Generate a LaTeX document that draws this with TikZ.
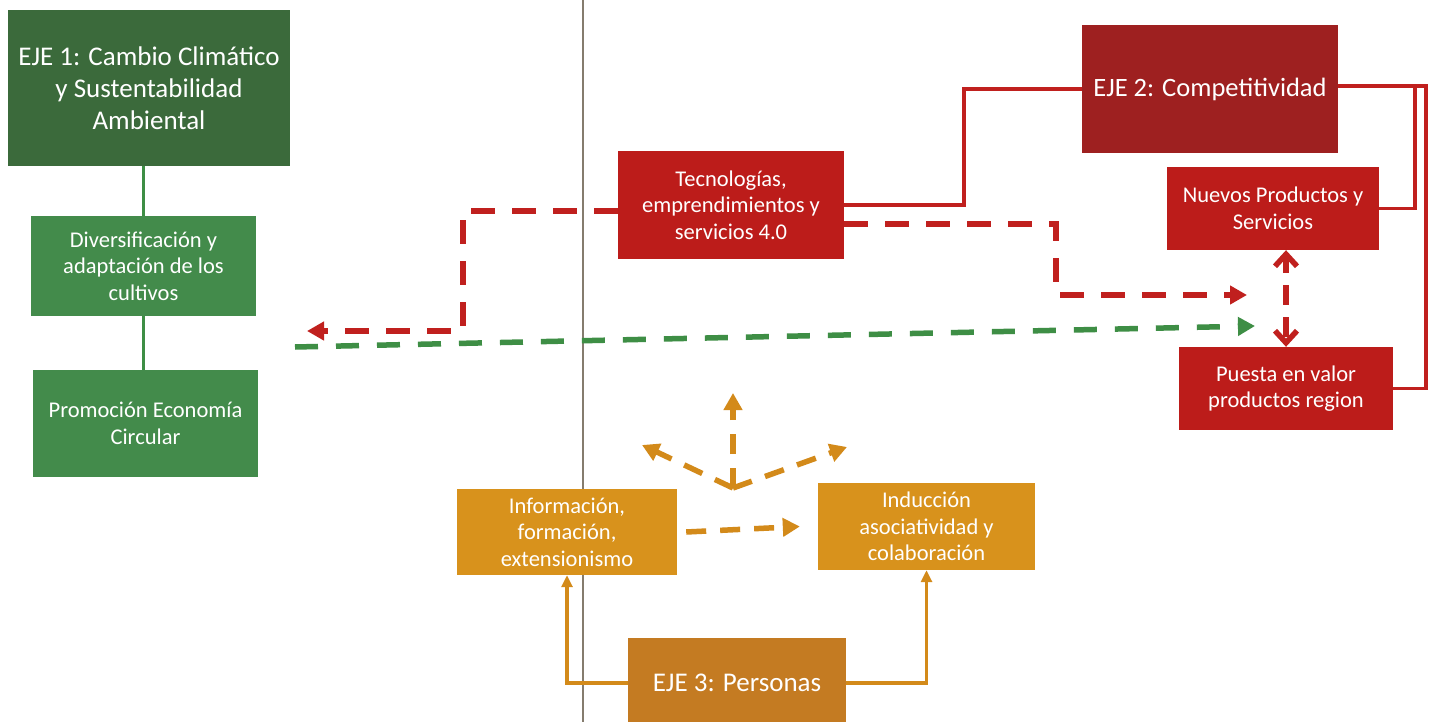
\documentclass[tikz,border=0pt]{standalone}
\usepackage{fontspec}
\setmainfont{Carlito}
\usetikzlibrary{arrows.meta}
\definecolor{gdark}{HTML}{3B6A3B}
\definecolor{gmid}{HTML}{438B4B}
\definecolor{gline}{HTML}{3E8E45}
\definecolor{rbox}{HTML}{BC1C1A}
\definecolor{rdark}{HTML}{9E2020}
\definecolor{rline}{HTML}{C0201E}
\definecolor{obox}{HTML}{D8921C}
\definecolor{odark}{HTML}{C47B22}
\definecolor{oline}{HTML}{D38A1A}
\definecolor{grayline}{HTML}{857C6E}
\tikzset{
  box/.style={rectangle, inner sep=2pt, align=center, text=white},
  bigtxt/.style={font=\fontsize{27}{32}\selectfont},
  smalltxt/.style={font=\fontsize{22.5}{26.5}\selectfont},
  solidred/.style={draw=rline, line width=3.2pt},
  solidgreen/.style={draw=gline, line width=3.2pt},
  solidorange/.style={draw=oline, line width=3.2pt, -{Triangle[length=12pt,width=11pt]}},
  reddash/.style={draw=rline, line width=5.5pt, dash pattern=on 24pt off 17pt},
  greendash/.style={draw=gline, line width=5.5pt, dash pattern=on 23pt off 18pt},
  orangedash/.style={draw=oline, line width=5.5pt, dash pattern=on 20pt off 14pt},
  tipfill/.style={-{Triangle[length=17pt,width=18pt]}},
}
\begin{document}
\begin{tikzpicture}[x=1pt,y=-1pt]
\useasboundingbox (0,0) rectangle (1437,722);
\fill[white] (0,0) rectangle (1437,722);

% gray vertical line
\coordinate (gt) at (583,0);
\coordinate (gb) at (583,722);
\draw[grayline, line width=2.5pt] (gt) -- (gb);

% EJE 1
\node[box, bigtxt, fill=gdark, minimum width=282pt, minimum height=156pt] (eje1) at (149,88)
  {EJE 1: Cambio Climático\\y Sustentabilidad\\Ambiental};
\node[box, smalltxt, fill=gmid, minimum width=225pt, minimum height=100pt] (div) at (143.5,266)
  {Diversificación y\\adaptación de los\\cultivos};
\node[box, smalltxt, fill=gmid, minimum width=225pt, minimum height=107pt] (prom) at (145.5,423.5)
  {Promoción Economía\\Circular};
\draw[solidgreen] (div.north) -- (div.north |- eje1.south);
\draw[solidgreen] (div.south) -- (div.south |- prom.north);

% EJE 2
\node[box, fill=rdark, minimum width=256pt, minimum height=128pt, font=\fontsize{26.5}{30}\selectfont] (eje2) at (1210,89)
  {EJE 2: Competitividad};
\node[box, smalltxt, fill=rbox, minimum width=226pt, minimum height=108pt] (tec) at (731,205)
  {Tecnologías,\\emprendimientos y\\servicios 4.0};
\node[box, smalltxt, fill=rbox, minimum width=212pt, minimum height=83pt] (nuevos) at (1273,208.5)
  {Nuevos Productos y\\Servicios};
\node[box, smalltxt, fill=rbox, minimum width=214pt, minimum height=83pt] (puesta) at (1286,388.5)
  {Puesta en valor\\productos region};

\draw[solidred] (eje2.west) -- (964,89) |- (tec.east);
\draw[solidred] ([yshift=3pt]eje2.east) -- (1415,86) |- (nuevos.east);
\draw[solidred] ([yshift=3pt]eje2.east) -- (1426,86) |- (puesta.east);

% dashed red/green
\coordinate (rl) at (307,331);
\coordinate (rr) at (1247,295);
\coordinate (gl) at (295,347);
\coordinate (gr) at (1255,326);
\draw[reddash, tipfill] ([yshift=-6pt]tec.west) -- (463,211) |- (rl);
\draw[reddash, tipfill] ([yshift=-19pt]tec.east) -- (1056,224) |- (rr);
\draw[greendash, tipfill] (gl) -- (gr);
\draw[reddash, {Straight Barb[length=12pt,width=22pt]}-{Straight Barb[length=12pt,width=22pt]}, dash pattern=on 20pt off 12pt, dash phase=4pt]
  (puesta.north |- nuevos.south) -- (puesta.north);

% EJE 3
\node[box, bigtxt, fill=odark, minimum width=218pt, minimum height=90pt] (eje3) at (737,683)
  {EJE 3: Personas};
\node[box, smalltxt, fill=obox, minimum width=220pt, minimum height=86pt] (info) at (567,532)
  {Información,\\formación,\\extensionismo};
\node[box, smalltxt, fill=obox, minimum width=217pt, minimum height=87pt] (induc) at (926.5,526.5)
  {Inducción\\asociatividad y\\colaboración};
\draw[solidorange] (eje3.west) -| (info.south);
\draw[solidorange] (eje3.east) -| (induc.south);
\draw[orangedash, tipfill] ([xshift=9pt]info.east) -- ([xshift=-18pt]induc.west);

\coordinate (hub) at (733,488);
\coordinate (up) at (733,393);
\coordinate (ul) at (642,445);
\coordinate (ur) at (847,447);
\draw[orangedash, tipfill] (hub) -- (up);
\draw[orangedash, tipfill] (hub) -- (ul);
\draw[orangedash, tipfill] (hub) -- (ur);
\end{tikzpicture}
\end{document}
